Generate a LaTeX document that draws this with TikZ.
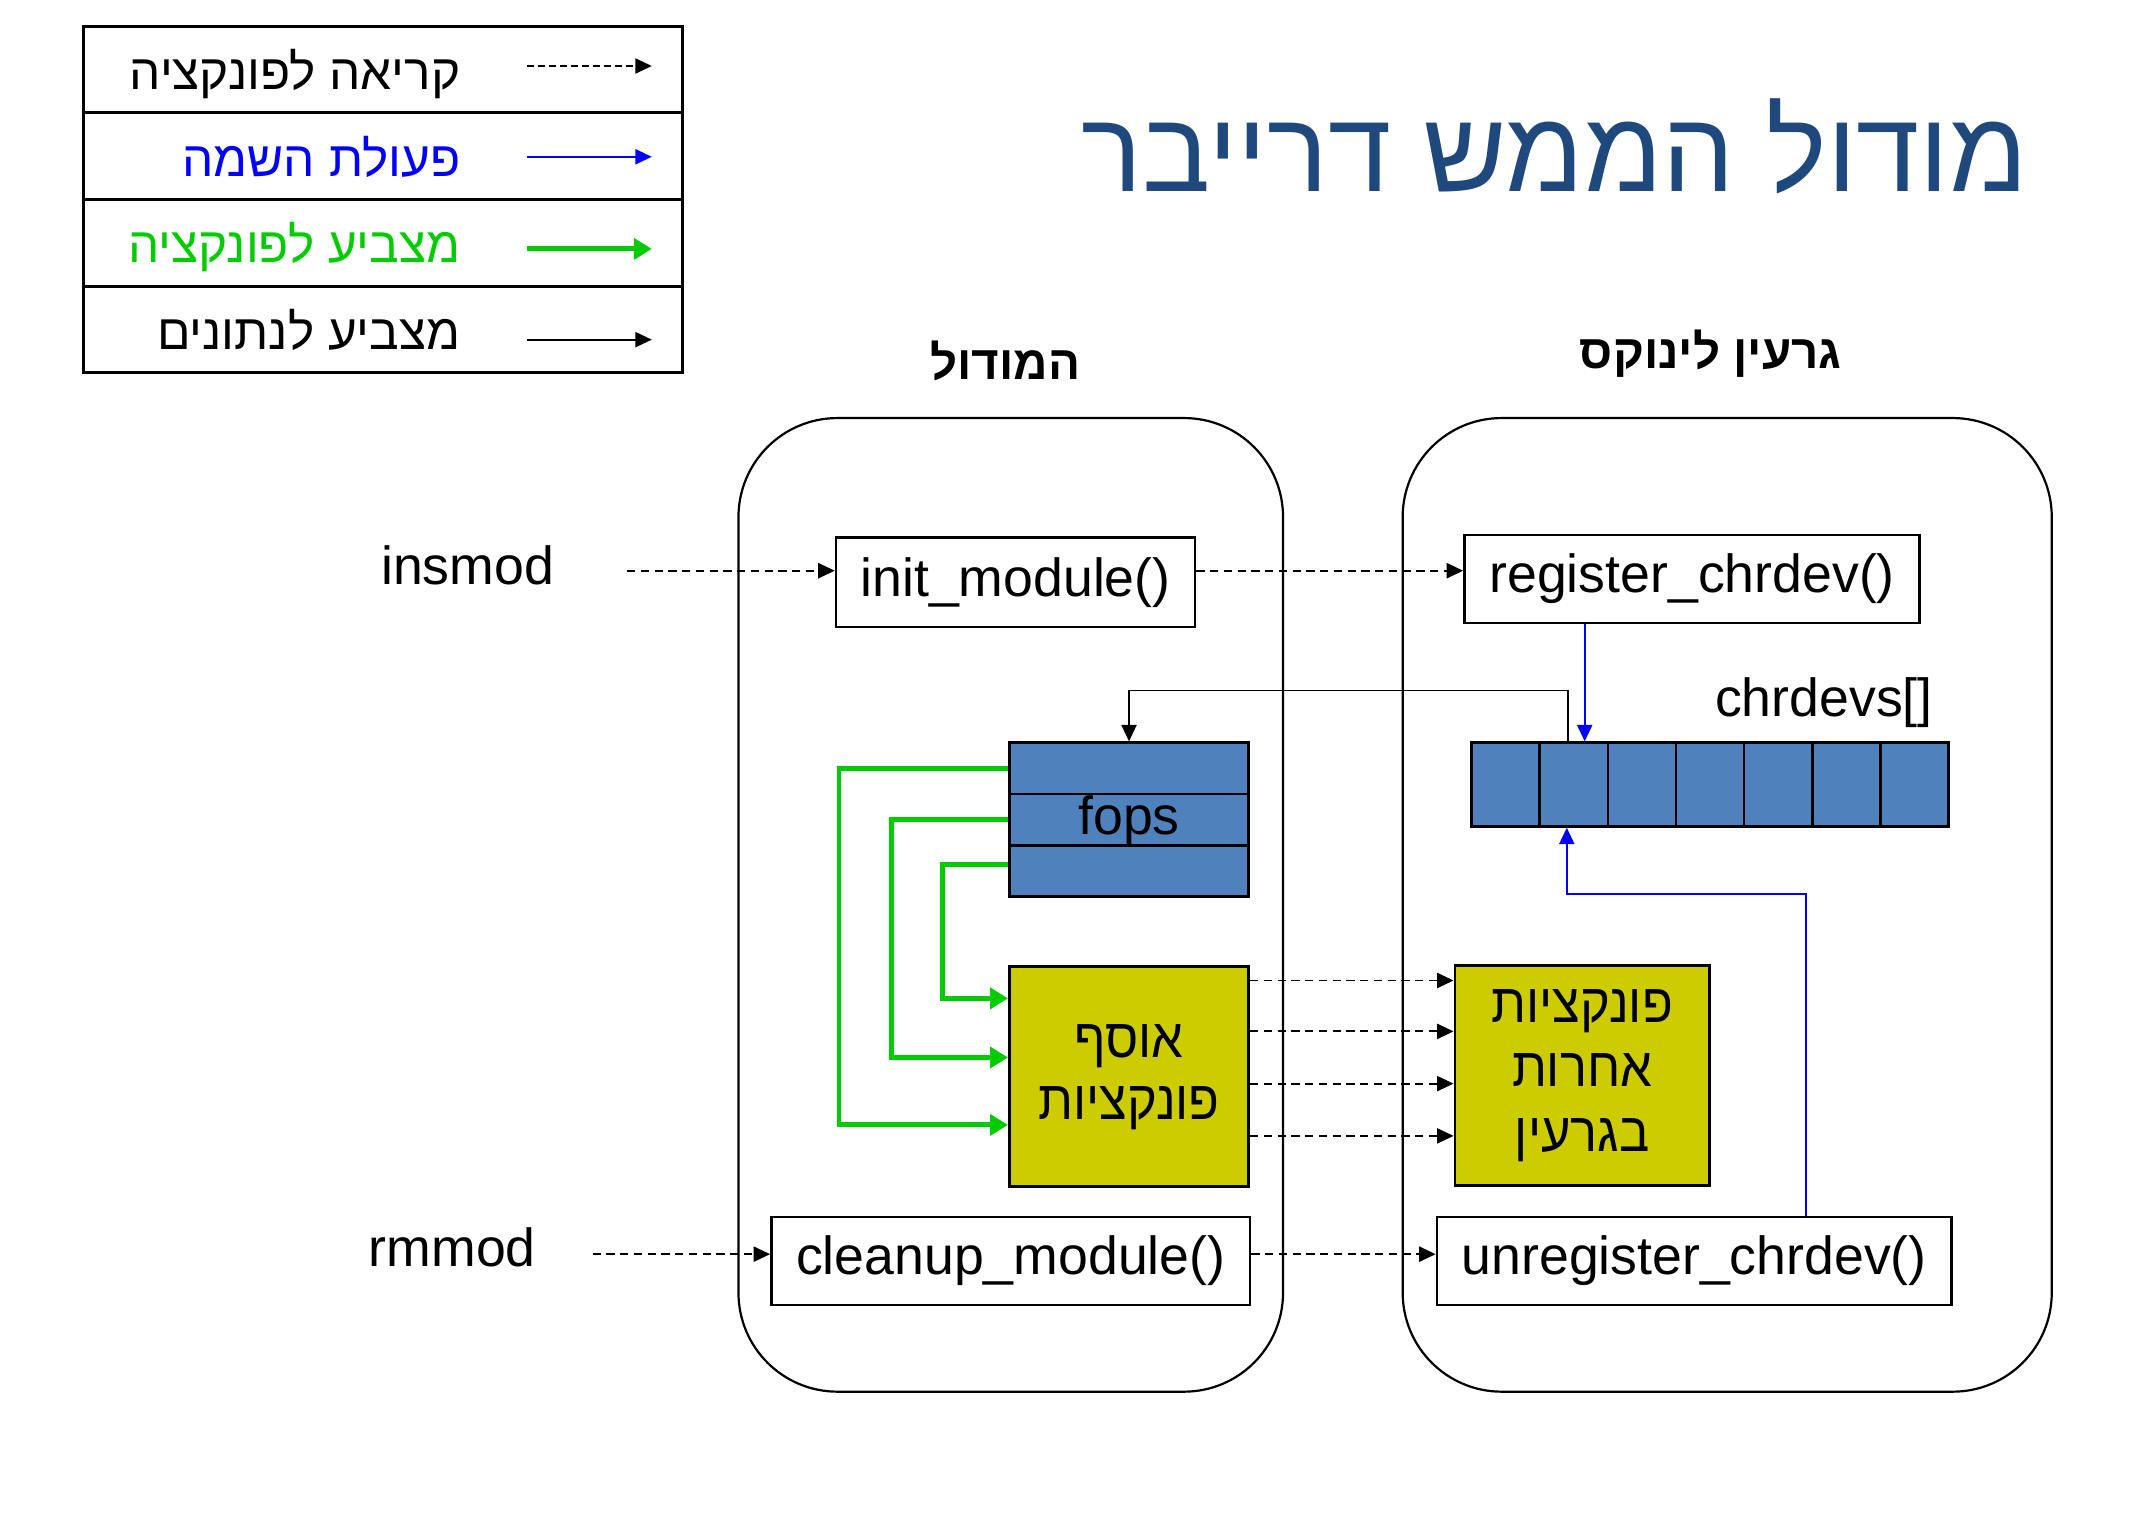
\documentclass[tikz,border=0pt]{standalone}
\usepackage{fontspec}
\setmainfont{Liberation Sans}
\newfontfamily\heb[Script=Hebrew]{Liberation Sans}
\newfontfamily\hebn[Script=Hebrew,FakeStretch=0.92]{Liberation Sans}
\TeXXeTstate=1
\usetikzlibrary{arrows.meta,calc}
\definecolor{titleblue}{RGB}{31,73,125}
\definecolor{cellblue}{RGB}{79,129,189}
\definecolor{yellowbox}{RGB}{204,204,0}
\definecolor{arrgreen}{RGB}{0,204,0}
\definecolor{arrblue}{RGB}{0,0,255}
\newcommand{\fsz}[2]{\fontsize{#1}{#2}\selectfont}
\tikzset{
  tipA/.style={-{Triangle[length=12pt,width=11pt]}},
  callarrow/.style={tipA, line width=1.4pt, dash pattern=on 6pt off 4pt},
  assignarrow/.style={tipA, arrblue, line width=1.4pt},
  fptrarrow/.style={-{Triangle[length=13pt,width=15pt]}, arrgreen, line width=3.6pt},
  dptrarrow/.style={tipA, black, line width=1.4pt},
  funcbox/.style={draw, line width=2pt, fill=white, inner sep=0pt, font=\fsz{39}{46}},
  cellbox/.style={draw, fill=cellblue, line width=1.8pt, inner sep=0pt, minimum width=49.57pt, minimum height=61pt},
  fopsbox/.style={draw, fill=cellblue, line width=1.8pt, inner sep=0pt, minimum width=174pt, minimum height=37.33pt},
  ybox/.style={draw, fill=yellowbox, line width=2pt, inner sep=0pt, align=center, font=\hebn\fsz{40}{46}},
  container/.style={draw, line width=1.6pt, rounded corners=72pt, inner sep=0pt},
  legrow/.style={draw, line width=2.2pt, inner sep=0pt, minimum width=435pt, minimum height=63pt},
  legtext/.style={anchor=base east, inner sep=0pt, font=\heb\fsz{36}{40}},
  plain/.style={inner sep=0pt, font=\fsz{39}{46}},
  header/.style={anchor=base, inner sep=0pt, font=\heb\bfseries\fsz{34.5}{40}}
}
\begin{document}
\begin{tikzpicture}[x=1pt,y=-1pt]
\useasboundingbox (0,0) rectangle (1562,1100);

% legend
\node[legrow] (leg1) at (278.5,50.5) {};
\node[legrow] (leg2) at (278.5,113.5) {};
\node[legrow] (leg3) at (278.5,176.5) {};
\node[legrow] (leg4) at (278.5,239.5) {};
\node[legtext] (lt1) at (335,65) {\beginR קריאה לפונקציה\endR};
\node[legtext, text=arrblue] (lt2) at (335,128) {\beginR פעולת השמה\endR};
\node[legtext, text=arrgreen] (lt3) at (335,191) {\beginR מצביע לפונקציה\endR};
\node[legtext] (lt4) at (335,254) {\beginR מצביע לנתונים\endR};
\coordinate (la1) at (383,48);  \coordinate (lb1) at (474,48);
\coordinate (la2) at (383,114); \coordinate (lb2) at (474,114);
\coordinate (la3) at (383,181); \coordinate (lb3) at (474,181);
\coordinate (la4) at (383,247); \coordinate (lb4) at (474,247);
\draw[callarrow, line width=1.2pt, dash pattern=on 5pt off 3pt] (la1) -- (lb1);
\draw[assignarrow] (la2) -- (lb2);
\draw[fptrarrow] (la3) -- (lb3);
\draw[dptrarrow] (la4) -- (lb4);

% title
\node[anchor=base east, inner sep=0pt, text=titleblue, font=\heb\fsz{83}{92}] (title) at (1475,139) {\beginR מודול הממש דרייבר\endR};

% headers
\node[header] (hmod) at (731,276) {\beginR המודול\endR};
\node[header] (hker) at (1244,268) {\beginR גרעין לינוקס\endR};

% containers
\node[container, minimum width=396pt, minimum height=708pt] (modbox) at (735,658) {};
\node[container, minimum width=472pt, minimum height=708pt] (kerbox) at (1256,658) {};

% commands
\node[plain, anchor=base west] (insmod) at (277,425) {insmod};
\node[plain, anchor=base west] (rmmod) at (268,921) {rmmod};
\coordinate (insstart) at (456,415);
\coordinate (rmstart) at (431,912);

% function boxes
\node[funcbox, minimum width=261pt, minimum height=65pt] (init) at (738.5,423.5) {init\_module()};
\node[funcbox, minimum width=331pt, minimum height=64pt] (register) at (1230.5,421) {register\_chrdev()};
\node[funcbox, minimum width=348pt, minimum height=64pt] (cleanup) at (735,917) {cleanup\_module()};
\node[funcbox, minimum width=374pt, minimum height=64pt] (unregister) at (1232,917) {unregister\_chrdev()};

% chrdevs array
\foreach \i in {1,...,7} {
  \node[cellbox] (c\i) at ({1070+49.57*(\i-0.5)},570.5) {};
}
\node[plain, anchor=base west] (chrlabel) at (1247,521) {chrdevs[]};

% fops
\node[fopsbox] (fops1) at (821,558.67) {};
\node[fopsbox] (fops2) at (821,596) {};
\node[fopsbox] (fops3) at (821,633.33) {};
\node[plain] (fopslabel) at (821,597) {fops};

% yellow boxes
\node[ybox, minimum width=174pt, minimum height=160pt] (yel1) at (821,783) {\beginR אוסף\endR\\[-1pt]\beginR פונקציות\endR};
\node[ybox, minimum width=185pt, minimum height=160pt] (yel2) at (1150.5,782) {\beginR פונקציות\endR\\[1pt]\beginR אחרות\endR\\[1pt]\beginR בגרעין\endR};

% call arrows
\draw[callarrow] (insstart) -- (insstart -| init.west);
\draw[callarrow] (init.east |- insstart) -- (register.west |- insstart);
\draw[callarrow] (rmstart) -- (rmstart -| cleanup.west);
\draw[callarrow] (cleanup.east |- rmstart) -- (unregister.west |- rmstart);
\foreach \s in {69,32,-6,-44} {
  \draw[callarrow] ([yshift=\s pt]yel2.west -| yel1.east) -- ([yshift=\s pt]yel2.west);
}

% assignment arrows
\coordinate (c2a) at ([xshift=8pt]c2.north);
\draw[assignarrow] (c2a |- register.south) -- (c2a);
\draw[assignarrow] ([xshift=81pt]unregister.north) -- ++(0,-234) -| ([xshift=-5pt]c2.south);

% data pointer
\draw[dptrarrow] ([xshift=-4pt]c2.north) -- ++(0,-37) -| (fops1.north);

% function pointers
\draw[fptrarrow] (fops1.west) -- ++(-123,0) |- ([yshift=-36pt]yel2.west -| yel1.west);
\draw[fptrarrow] (fops2.west) -- ++(-85,0) |- ([yshift=13pt]yel2.west -| yel1.west);
\draw[fptrarrow] ([yshift=5pt]fops3.west) -- ++(-48,0) |- ([yshift=56pt]yel2.west -| yel1.west);
\end{tikzpicture}
\end{document}
